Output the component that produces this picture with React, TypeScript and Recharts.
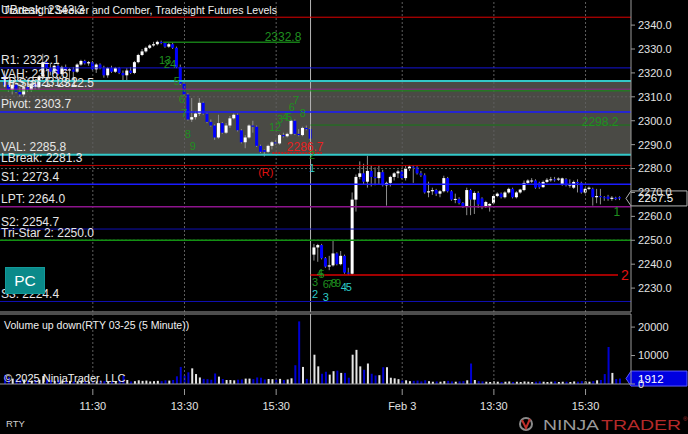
import React from "react";
import {
  Bar,
  Cell,
  ComposedChart,
  ReferenceArea,
  ReferenceDot,
  ReferenceLine,
  XAxis,
  YAxis,
} from "recharts";

const FONT = "'Liberation Sans', Arial, Helvetica, sans-serif";

// price axis / time axis
const priceTicks = [2230, 2240, 2250, 2260, 2270, 2280, 2290, 2300, 2310, 2320, 2330, 2340];
const gridPrices = [2250, 2280, 2310];
const timeTickIdx = [23, 47, 71, 104, 128, 152];
const timeTickLabels = ["11:30", "13:30", "15:30", "Feb 3", "13:30", "15:30"];
const sessionBreakIdx = 80;
const volTicks = [0, 10000, 20000];

// 5 minute bars, RTY 03-25: open, high, low, close
const ohlc: number[][] = [
  // Jan 31
  [2319, 2321, 2314, 2315], [2315, 2317, 2312, 2313], [2313, 2316, 2311, 2315], [2315, 2316.5, 2311.5, 2312],
  [2312, 2314, 2310, 2311], [2311, 2315, 2310, 2314], [2314, 2316, 2312, 2313], [2313, 2316, 2312, 2315.5],
  [2315.5, 2317, 2313, 2314], [2314, 2319, 2313, 2318.5],
  [2318.5, 2328, 2317.5, 2324.5], [2324.5, 2326, 2321, 2322], [2322, 2324, 2319, 2320.5], [2320.5, 2323.5, 2320, 2323],
  [2323, 2324.5, 2319, 2319.5], [2319.5, 2323, 2318.5, 2322.5], [2322.5, 2323.5, 2320.5, 2321], [2321, 2322, 2317.5, 2321.5],
  [2321.5, 2322.5, 2317, 2320.5], [2320.5, 2324, 2320, 2323.5],
  [2323.5, 2325.5, 2323, 2325], [2325, 2325.5, 2323.5, 2324], [2324, 2325, 2323, 2324.5], [2324.5, 2325, 2321, 2321.5],
  [2321.5, 2324, 2320, 2323.5], [2323.5, 2324, 2321.5, 2322], [2322, 2323, 2318, 2319], [2319, 2322.5, 2318, 2322],
  [2322, 2323, 2320, 2320.5], [2320.5, 2322.5, 2320, 2322],
  [2322, 2322.5, 2319.5, 2320], [2320, 2321, 2316.5, 2319], [2319, 2322, 2316.5, 2321], [2321, 2322.5, 2319.5, 2320],
  [2320, 2325, 2319.5, 2324.5], [2324.5, 2328, 2324, 2327.5], [2327.5, 2330, 2327, 2329], [2329, 2331, 2328.5, 2330.5],
  [2330.5, 2332, 2330, 2331.5], [2331.5, 2333, 2331, 2332],
  [2332, 2333.5, 2331.5, 2333], [2333, 2333.5, 2332, 2332.5], [2332.5, 2332.8, 2330.5, 2331], [2331, 2332.5, 2330.5, 2332],
  [2332, 2332.5, 2330, 2330.5], [2330.5, 2331, 2322, 2322.5], [2322.5, 2323.5, 2315, 2315.5], [2315.5, 2316, 2310.5, 2311],
  [2311, 2311.5, 2300, 2300.5], [2300.5, 2309.5, 2299.5, 2301.5],
  [2301.5, 2304, 2300.5, 2303], [2303, 2309.5, 2302, 2307.5], [2307.5, 2308, 2302.5, 2303], [2303, 2303.5, 2299, 2299.5],
  [2299.5, 2300.5, 2297.5, 2298], [2298, 2298.5, 2292, 2293], [2293, 2302.5, 2292.5, 2299], [2299, 2299.5, 2294.5, 2295],
  [2295, 2299, 2294.5, 2298], [2298, 2302, 2297, 2301],
  [2301, 2303, 2300.5, 2302.5], [2302.5, 2303, 2295.5, 2296], [2296, 2296.5, 2290.5, 2291], [2291, 2294, 2288.5, 2293],
  [2293, 2298.5, 2292.5, 2298], [2298, 2300, 2295, 2297.5], [2297.5, 2298, 2289, 2289.5], [2289.5, 2290, 2286.5, 2287],
  [2287.7, 2288, 2285, 2287], [2287, 2290, 2286.5, 2289.5],
  [2289.5, 2291.5, 2288, 2291], [2291, 2292, 2290, 2290.5], [2290.5, 2294.5, 2290, 2294], [2294, 2295, 2293, 2293.5],
  [2293.5, 2295, 2293, 2294.5], [2294.5, 2300.5, 2294, 2300], [2300, 2300.5, 2294, 2294.5], [2294.5, 2296.5, 2293.5, 2294],
  [2294, 2297.5, 2293.5, 2297], [2297, 2298, 2296, 2296.5], [2296.5, 2297, 2292, 2292.5],
  // Feb 3
  [2244, 2248.5, 2241.5, 2247], [2247, 2248.5, 2241, 2248], [2248, 2248.5, 2242, 2242.5], [2242.5, 2243, 2238.5, 2239],
  [2239, 2243.5, 2237.5, 2239.5], [2239.5, 2250, 2239, 2244.5], [2244.5, 2245, 2239.5, 2240], [2240, 2245.5, 2239.5, 2243.5],
  [2243.5, 2244, 2236, 2236.5], [2236.5, 2238.5, 2235.5, 2236],
  [2236, 2270, 2235.5, 2267], [2267, 2277.5, 2262, 2276.5], [2276.5, 2283, 2275.5, 2278], [2278, 2282, 2273.5, 2274.5],
  [2274.5, 2285.3, 2272, 2279], [2279, 2281.5, 2272.5, 2276.5], [2276.5, 2280.5, 2273, 2276], [2276, 2281.5, 2273.5, 2278.5],
  [2278.5, 2279.5, 2272.5, 2273], [2273, 2274.5, 2264.5, 2274],
  [2274, 2277, 2272.5, 2276.5], [2276.5, 2278.5, 2275, 2278], [2278, 2279.5, 2276, 2278.8], [2278.8, 2279.5, 2275.5, 2276],
  [2276, 2281, 2275, 2280], [2280, 2281.5, 2279, 2280.8], [2280.8, 2281.5, 2274, 2280.5], [2280.5, 2281, 2277.5, 2278],
  [2278, 2279, 2276.5, 2277.2], [2277.2, 2278, 2269.5, 2270],
  [2270, 2274.5, 2268, 2270.5], [2270.5, 2272, 2269, 2271], [2271, 2271.5, 2268.5, 2269.5], [2269.5, 2271, 2268, 2270.5],
  [2270.5, 2277, 2270, 2276], [2276, 2276.5, 2270, 2270.5], [2270.5, 2271, 2266.5, 2267], [2267, 2269.5, 2265.5, 2267.3],
  [2267.3, 2268, 2265, 2265.6], [2265.6, 2266, 2263.5, 2264],
  [2264, 2272, 2260.5, 2271], [2271, 2271.5, 2260.5, 2267], [2267, 2270.5, 2261, 2269.8], [2269.8, 2270.5, 2263.5, 2265],
  [2267.5, 2268, 2263, 2264], [2264, 2266.5, 2263.5, 2266], [2264.5, 2265.5, 2262, 2265.2], [2265.5, 2269, 2265, 2268.5],
  [2268.5, 2270, 2268, 2269.5], [2269.5, 2270, 2267.5, 2268],
  [2268, 2270.5, 2267.5, 2270], [2270, 2272, 2269.5, 2271.5], [2271.5, 2272, 2267.5, 2268], [2268, 2270.5, 2267.5, 2270],
  [2270, 2271.5, 2269.5, 2271.2], [2271, 2275, 2270.5, 2274], [2274, 2275.5, 2273.5, 2275], [2274.8, 2276, 2274, 2275],
  [2275, 2275.5, 2271.5, 2272], [2274, 2274.5, 2271.5, 2272.2],
  [2272.2, 2275, 2272, 2274.4], [2274.4, 2276, 2274, 2275.3], [2275.3, 2276.5, 2274.5, 2275.5], [2275.5, 2276.5, 2274.5, 2275.4],
  [2275.4, 2276.3, 2274.8, 2275.8], [2273.2, 2276.2, 2272.8, 2275.9], [2275.5, 2276, 2272.5, 2273], [2273, 2275.5, 2272, 2273.3],
  [2272, 2275, 2271.5, 2274.4], [2274.4, 2275.5, 2270, 2274],
  [2274, 2274.5, 2269.5, 2270], [2270, 2272, 2269.5, 2271.5], [2271.5, 2272.5, 2271, 2272], [2271.5, 2272, 2264.5, 2268],
  [2268, 2271.5, 2265.5, 2268.5], [2268.5, 2271.5, 2265, 2268], [2268, 2268.5, 2266.5, 2267.7], [2268.3, 2269, 2266.5, 2267.3],
  [2267.3, 2268.5, 2266.5, 2267.8], [2267.8, 2268.2, 2266.8, 2267.2], [2268, 2268.4, 2266.8, 2267.5],
];

const volumes = [
  3200, 2400, 1900, 1700, 1500, 1600, 1300, 1200, 1400, 1500,
  2800, 1600, 1400, 1100, 1300, 1200, 1000, 1100, 900, 1000,
  1200, 900, 800, 1000, 900, 1100, 1000, 800, 900, 1000,
  1200, 2900, 1400, 900, 1000, 1300, 1100, 1200, 900, 1000,
  1100, 1000, 1300, 1200, 1400, 2700, 6000, 3000, 4100, 5500,
  3500, 2300, 1800, 1700, 1500, 3700, 2600, 1750, 1400, 1400,
  1300, 1500, 1600, 1900, 1900, 1700, 2300, 2200, 1600, 1750,
  1700, 1500, 1800, 1400, 1600, 2000, 6600, 22000, 6000, 1800, 1500,
  10300, 6200, 3600, 4300, 3300, 4500, 4700, 3900, 3900, 2200,
  10300, 12000, 6200, 5000, 7200, 3600, 3000, 3100, 5900, 5900,
  2200, 2000, 1700, 1200, 1300, 1000, 1100, 1200, 900, 1300,
  1000, 800, 900, 800, 1000, 1100, 900, 800, 900, 1000,
  1300, 7200, 1400, 1000, 900, 800, 700, 900, 800, 700,
  800, 900, 700, 800, 700, 900, 800, 700, 800, 900,
  800, 700, 800, 900, 700, 800, 800, 700, 900, 800,
  1000, 900, 800, 1000, 1300, 1400, 3500, 13000, 3900, 1750, 1912,
];

// Tradesight levels
const levelLabels = [
  "UBreak: 2343.3", "R1: 2322.1", "VAH: 2316.6", "TPS 3: 2313.2", "Tri-Star 1: 2312.5", "Pivot: 2303.7",
  "VAL: 2285.8", "LBreak: 2281.3", "S1: 2273.4", "LPT: 2264.0", "S2: 2254.7", "Tri-Star 2: 2250.0", "S3: 2224.4",
];
const levelValues = [2343.3, 2322.1, 2316.6, 2313.2, 2312.5, 2303.7, 2285.8, 2281.3, 2273.4, 2264.0, 2254.7, 2250.0, 2224.4];
const valueArea = [2285.8, 2316.6];

// partial lines: [fromIdx, toIdx, price]
const sessionHigh = [41.4, 77.2, 2332.8];
const retrace = [80, 163.9, 2298.2];
const gapLine = [80, 160.5, 2235.5];
const lowMark = [70, 83, 2286.5];

// count / marker texts: [idx, price, text, kind]
const notes: [number, number, string, string][] = [
  [41.9, 2325.4, "13", "g"], [43.2, 2323.7, "24", "g"], [45, 2316.6, "5", "g"], [46.3, 2309.1, "6", "g"],
  [46.9, 2303.2, "7", "g"], [47.9, 2294.5, "8", "g"], [49.2, 2289.4, "9", "g"],
  [70.7, 2297.2, "12", "g"], [72, 2300.7, "3", "g"], [73.3, 2301.4, "4", "g"], [74.4, 2301.6, "5", "g"],
  [75.1, 2305.7, "6", "g"], [76.2, 2308.7, "7", "g"], [78, 2303.2, "8", "g"],
  [80.4, 2285.7, "2", "g"], [80.4, 2280.2, "1", "c"], [68.3, 2278.6, "(R)", "r"],
  [81.2, 2232.6, "3", "g"], [82.5, 2236.4, "4", "g"], [82.9, 2236.0, "5", "g"],
  [84.0, 2231.8, "6", "g"], [85.1, 2231.8, "7", "g"], [86.1, 2232.2, "8", "g"], [87.2, 2232.2, "9", "g"],
  [88.7, 2230.5, "4", "c"], [90, 2230.5, "5", "c"], [81.2, 2227.6, "2", "c"], [84, 2226.3, "3", "c"],
  [160.2, 2261.9, "1", "G"], [162.3, 2235.5, "2", "R"],
  [72.8, 2335.0, "2332.8", "G"], [155.8, 2299.6, "2298.2", "G"], [78.6, 2289.0, "2286.7", "R2"],
];

const rows = ohlc.map(([o, h, l, c], i) => ({
  i,
  open: o,
  high: h,
  low: l,
  close: c,
  range: [l, h],
  vol: volumes[i],
}));

const lastClose = ohlc[ohlc.length - 1][3];
const lastVol = volumes[volumes.length - 1];

// styles
const levelStroke = ["#e00000", "#1414d8", "#33c9c9", "#8a2a8a", "#139013", "#1a1aff", "#33c9c9", "#c00000", "#1a1aff", "#8c148c", "#1010b4", "#139013", "#1010b4"];
const levelWidth = [1, 1, 2, 1, 1, 1.5, 2, 1, 1.5, 1.5, 1, 1.5, 1];
const noteStyle: Record<string, { fill: string; size: number }> = {
  g: { fill: "#1f8f1f", size: 11 },
  G: { fill: "#1f8f1f", size: 12 },
  c: { fill: "#2ccaca", size: 11 },
  r: { fill: "#e01010", size: 11 },
  R: { fill: "#e01010", size: 14 },
  R2: { fill: "#e82020", size: 12 },
};
const X_DOMAIN: [number, number] = [-1.3, 163.9];
const gridStroke = "#5e5e5e";
const axisStroke = "#9a9a9a";
const tickText = { fill: "#e2e2e2", fontSize: 11, fontFamily: FONT };

function Candle(props: any) {
  const { x, y, width, height, payload } = props;
  if (!payload) return null;
  const mid = x + width / 2;
  const top = Math.min(y, y + height);
  const h = Math.abs(height);
  const span = payload.high - payload.low;
  const at = (v: number) => (span > 0 ? top + ((payload.high - v) / span) * h : top);
  const up = payload.close >= payload.open;
  const y1 = at(Math.max(payload.open, payload.close));
  const y2 = at(Math.min(payload.open, payload.close));
  return (
    <g>
      <line x1={mid} x2={mid} y1={top} y2={top + h} stroke="#8e8e8e" strokeWidth={1} />
      <rect x={mid - 1.5} y={y1} width={3} height={Math.max(1, y2 - y1)} fill={up ? "#ffffff" : "#0000ff"} />
    </g>
  );
}

const levelLabel = (text: string) => (props: any) => {
  const vb = props.viewBox;
  if (!vb) return null;
  return (
    <text x={vb.x + 1} y={vb.y - 3.5} fill="#e6e6e6" fontSize={12} fontFamily={FONT}>
      {text}
    </text>
  );
};

const tag = (text: string, fill: string, stroke: string) => (props: any) => {
  const vb = props.viewBox;
  if (!vb) return null;
  const x0 = vb.x + vb.width;
  const y = vb.y;
  return (
    <g>
      <polygon
        points={`${x0 - 5},${y} ${x0},${y - 7.5} ${x0 + 56},${y - 7.5} ${x0 + 56},${y + 7.5} ${x0},${y + 7.5}`}
        fill={fill}
        stroke={stroke}
      />
      <text x={x0 + 7} y={y + 4} fill="#ffffff" fontSize={11.5} fontFamily={FONT}>
        {text}
      </text>
    </g>
  );
};

function TimeTick(props: any) {
  const { x, y, payload } = props;
  const k = timeTickIdx.indexOf(payload.value);
  return (
    <g>
      <line x1={x} x2={x} y1={y - 1} y2={y + 5} stroke={axisStroke} />
      <text x={x} y={y + 20} textAnchor="middle" {...tickText}>
        {timeTickLabels[k]}
      </text>
    </g>
  );
}

function NoteText(text: string, kind: string) {
  const s = noteStyle[kind];
  return (props: any) => (
    <text
      x={props.cx}
      y={props.cy}
      textAnchor="middle"
      dominantBaseline="central"
      fill={s.fill}
      fontSize={s.size}
      fontFamily={FONT}
    >
      {text}
    </text>
  );
}

function VerticalGrid() {
  return (
    <>
      {timeTickIdx.map((t) => (
        <ReferenceLine key={`vg${t}`} x={t} stroke={gridStroke} strokeDasharray="2 2" />
      ))}
      <ReferenceLine x={sessionBreakIdx} stroke="#b4b4b4" strokeWidth={1} />
    </>
  );
}

function PricePanel() {
  return (
    <ComposedChart width={688} height={313} data={rows} margin={{ top: 0, right: 0, bottom: 0, left: 0 }}>
      <XAxis
        dataKey="i"
        type="number"
        domain={X_DOMAIN}
        allowDataOverflow
        height={1}
        tick={false}
        tickLine={false}
        axisLine={{ stroke: axisStroke }}
      />
      <YAxis
        orientation="right"
        width={57}
        type="number"
        domain={[2220, 2350.5]}
        allowDataOverflow
        ticks={priceTicks}
        interval={0}
        tickFormatter={(v: number) => v.toFixed(1)}
        tick={tickText}
        tickSize={4}
        tickMargin={3}
        tickLine={{ stroke: axisStroke }}
        axisLine={{ stroke: axisStroke }}
      />
      <ReferenceArea y1={valueArea[0]} y2={valueArea[1]} fill="#4a4a45" fillOpacity={1} stroke="none" />
      {gridPrices.map((p) => (
        <ReferenceLine key={`hg${p}`} y={p} stroke={gridStroke} strokeDasharray="2 2" />
      ))}
      {VerticalGrid()}
      {levelValues.map((v, k) => (
        <ReferenceLine
          key={`lv${k}`}
          y={v}
          stroke={levelStroke[k]}
          strokeWidth={levelWidth[k]}
          label={levelLabel(levelLabels[k])}
        />
      ))}
      <ReferenceLine
        segment={[{ x: sessionHigh[0], y: sessionHigh[2] }, { x: sessionHigh[1], y: sessionHigh[2] }]}
        stroke="#167a16"
        strokeWidth={1.5}
      />
      <ReferenceLine
        segment={[{ x: retrace[0], y: retrace[2] }, { x: retrace[1], y: retrace[2] }]}
        stroke="#167a16"
        strokeWidth={1}
      />
      <ReferenceLine
        segment={[{ x: gapLine[0], y: gapLine[2] }, { x: gapLine[1], y: gapLine[2] }]}
        stroke="#d80000"
        strokeWidth={1.5}
      />
      <ReferenceLine
        segment={[{ x: lowMark[0], y: lowMark[2] }, { x: lowMark[1], y: lowMark[2] }]}
        stroke="#e01010"
        strokeWidth={1.5}
        strokeDasharray="2 1"
      />
      <Bar dataKey="range" barSize={3} shape={Candle} isAnimationActive={false} />
      {notes.map(([i, p, t, k], n) => (
        <ReferenceDot key={`nt${n}`} x={i} y={p} r={1} ifOverflow="visible" shape={NoteText(t, k)} />
      ))}
      <ReferenceLine y={lastClose} stroke="none" label={tag(lastClose.toFixed(1), "#000000", "#b4b4b4")} />
    </ComposedChart>
  );
}

function VolumePanel() {
  return (
    <ComposedChart width={688} height={121} data={rows} margin={{ top: 1, right: 0, bottom: 0, left: 0 }}>
      <XAxis
        dataKey="i"
        type="number"
        domain={X_DOMAIN}
        allowDataOverflow
        ticks={timeTickIdx}
        interval={0}
        height={50}
        tick={TimeTick}
        tickLine={false}
        tickSize={6}
        tickMargin={0}
        axisLine={{ stroke: axisStroke }}
      />
      <YAxis
        orientation="right"
        width={57}
        type="number"
        domain={[0, 24600]}
        allowDataOverflow
        ticks={volTicks}
        interval={0}
        tick={tickText}
        tickSize={4}
        tickMargin={3}
        tickLine={{ stroke: axisStroke }}
        axisLine={{ stroke: axisStroke }}
      />
      <ReferenceLine y={24600} stroke={axisStroke} ifOverflow="visible" />
      {VerticalGrid()}
      <Bar dataKey="vol" barSize={2} isAnimationActive={false}>
        {rows.map((r) => (
          <Cell key={r.i} fill={r.close >= r.open ? "#e6e6e6" : "#0000d2"} />
        ))}
      </Bar>
      <ReferenceLine y={lastVol} stroke="none" label={tag(String(lastVol), "#0000e0", "#5a5aff")} />
    </ComposedChart>
  );
}

export default function App() {
  return (
    <div style={{ position: "absolute", left: 0, top: 0, width: 688, height: 434, background: "#000", overflow: "hidden" }}>
      <div style={{ position: "absolute", left: 0, top: 0 }}>
        <PricePanel />
      </div>
      <div style={{ position: "absolute", left: 0, top: 313 }}>
        <VolumePanel />
      </div>
      <svg width={688} height={434} style={{ position: "absolute", left: 0, top: 0, pointerEvents: "none" }}>
        <text x={3} y={14} fill="#f0f0f0" fontSize={11.5} fontFamily={FONT} textLength={274} lengthAdjust="spacingAndGlyphs">
          Tradesight Seeker and Comber, Tradesight Futures Levels
        </text>
        <rect x={5.5} y={267.5} width={39} height={26} fill="#0a8a8a" stroke="#139a9a" />
        <text x={25} y={286} textAnchor="middle" fill="#ffffff" fontSize={15.5} fontFamily={FONT}>
          PC
        </text>
        <text x={4} y={329} fill="#f0f0f0" fontSize={10.5} fontFamily={FONT}>
          Volume up down(RTY 03-25 (5 Minute))
        </text>
        <text x={4} y={382} fill="#f0f0f0" fontSize={11} fontFamily={FONT}>
          © 2025 NinjaTrader, LLC
        </text>
        <text x={6} y={427} fill="#d0d0d0" fontSize={9.5} fontFamily={FONT}>
          RTY
        </text>
        <circle cx={526} cy={424} r={6} fill="none" stroke="#8a8a8a" strokeWidth={2} />
        <path d="M522,420 L526,428 L530,419" fill="none" stroke="#c0302b" strokeWidth={2} />
        <text x={543} y={429.5} fill="#9a9a9a" fontSize={15} fontWeight={300} fontFamily={FONT} textLength={56} lengthAdjust="spacingAndGlyphs">
          NINJA
        </text>
        <text x={601} y={429.5} fill="#b52a2a" fontSize={15} fontFamily={FONT} textLength={80} lengthAdjust="spacingAndGlyphs">
          TRADER
        </text>
        <text x={683} y={421} fill="#b52a2a" fontSize={6} fontFamily={FONT}>
          ®
        </text>
      </svg>
    </div>
  );
}
